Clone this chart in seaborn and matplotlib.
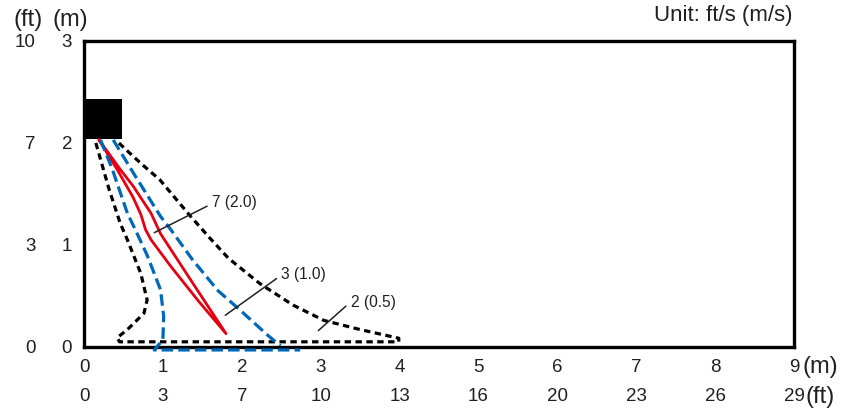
import matplotlib
matplotlib.use('Agg')
import matplotlib.pyplot as plt
import seaborn as sns
import pandas as pd

# axis ticks (m) and matching ft labels
x_ticks_m = [0, 1, 2, 3, 4, 5, 6, 7, 8, 9]
x_labels_ft = ['0', '3', '7', '10', '13', '16', '20', '23', '26', '29']
y_ticks_m = [0, 1, 2, 3]
y_labels_ft = ['0', '3', '7', '10']

# sensor head outline (m): x0, x1, y0, y1
head_x = [0.03, 0.48]
head_y = [2.04, 2.43]

# 7 ft/s (2.0 m/s) zone, red solid
red_x = [0.19, 0.42, 0.62, 0.72, 0.78, 0.85, 1.10, 1.45, 1.80,
         1.40, 0.97, 0.85, 0.62, 0.46, 0.19]
red_y = [2.03, 1.74, 1.47, 1.30, 1.15, 1.05, 0.79, 0.45, 0.13,
         0.60, 1.11, 1.31, 1.58, 1.74, 2.03]

# 3 ft/s (1.0 m/s) zone, blue dashed
blue_left_x = [0.21, 0.36, 0.55, 0.65, 0.80, 0.97, 1.01, 1.00, 0.89, 2.74]
blue_left_y = [2.03, 1.74, 1.31, 1.15, 0.90, 0.56, 0.30, 0.07, -0.03, -0.03]
blue_right_x = [0.37, 0.63, 0.97, 1.10, 1.38, 1.70, 1.98, 2.32, 2.49]
blue_right_y = [2.03, 1.70, 1.28, 1.15, 0.85, 0.55, 0.36, 0.12, 0.01]

# 2 ft/s (0.5 m/s) zone, black dashed
black_x = [0.15, 0.32, 0.46, 0.55, 0.72, 0.80, 0.76, 0.55, 0.42, 0.45, 3.99,
           3.99, 3.50, 3.04, 2.65, 2.23, 1.83, 1.58, 1.34, 0.96, 0.72, 0.40]
black_y = [2.00, 1.54, 1.21, 1.05, 0.72, 0.46, 0.33, 0.17, 0.09, 0.05, 0.05,
           0.085, 0.17, 0.26, 0.41, 0.62, 0.87, 1.08, 1.29, 1.64, 1.80, 2.03]

# callouts: label, leader start, leader end
zone_labels = ['7 (2.0)', '3 (1.0)', '2 (0.5)']
leader_x0 = [0.89, 1.79, 2.97]
leader_y0 = [1.12, 0.31, 0.16]
leader_x1 = [1.56, 2.44, 3.32]
leader_y1 = [1.38, 0.67, 0.40]

RED = '#e60012'
BLUE = '#0068b7'
INK = '#231f20'

sns.set_style('white')
plt.rcParams['font.family'] = ['Liberation Sans', 'DejaVu Sans']

fig = plt.figure(figsize=(8.52, 4.12), dpi=100)
ax = fig.add_axes([0.0986, 0.158, 0.8334, 0.7425])

# sensor head
ax.fill_between(head_x, head_y[0], head_y[1], color='black', lw=0)

sns.lineplot(data=pd.DataFrame({'x': black_x, 'y': black_y}), x='x', y='y',
             sort=False, estimator=None, color='black', lw=2.3,
             linestyle=(0, (2.0, 1.4)), ax=ax)
sns.lineplot(data=pd.DataFrame({'x': blue_left_x, 'y': blue_left_y}), x='x', y='y',
             sort=False, estimator=None, color=BLUE, lw=2.3,
             linestyle=(0, (3.6, 1.6)), ax=ax, clip_on=False, zorder=3)
sns.lineplot(data=pd.DataFrame({'x': blue_right_x, 'y': blue_right_y}), x='x', y='y',
             sort=False, estimator=None, color=BLUE, lw=2.3,
             linestyle=(0, (3.6, 1.6)), ax=ax)
sns.lineplot(data=pd.DataFrame({'x': red_x, 'y': red_y}), x='x', y='y',
             sort=False, estimator=None, color=RED, lw=2.0, ax=ax)

for lab, x0, y0, x1, y1 in zip(zone_labels, leader_x0, leader_y0, leader_x1, leader_y1):
    ax.plot([x0, x1], [y0, y1], color=INK, lw=1.1)
    ax.text(x1 + 0.06, y1 + 0.04, lab, fontsize=11.2, color=INK,
            ha='left', va='center')

ax.set_xlim(0, 9)
ax.set_ylim(0, 3)
ax.set_xlabel('')
ax.set_ylabel('')
for s in ax.spines.values():
    s.set_linewidth(2.4)
    s.set_color('black')

ax.set_xticks(x_ticks_m)
ax.set_xticklabels([str(v) for v in x_ticks_m])
ax.set_yticks(y_ticks_m)
ax.set_yticklabels([str(v) for v in y_ticks_m])
ax.tick_params(axis='both', direction='in', length=6, width=2.0, color='black',
               labelsize=13.5, labelcolor=INK)
ax.tick_params(axis='x', pad=9)
ax.tick_params(axis='y', pad=8.5)

# second row / column in feet
for xv, lab in zip(x_ticks_m, x_labels_ft):
    ax.annotate(lab, xy=(xv, 0), xycoords=('data', 'axes fraction'),
                xytext=(0, -36), textcoords='offset points',
                ha='center', va='center', fontsize=13.5, color=INK)
for yv, lab in zip(y_ticks_m, y_labels_ft):
    ax.annotate(lab, xy=(0, yv), xycoords=('axes fraction', 'data'),
                xytext=(-35, 0), textcoords='offset points',
                ha='right', va='center_baseline', fontsize=13.5, color=INK)

fig.text(28 / 852, 1 - 20 / 412, '(ft)', ha='center', va='center', fontsize=17, color=INK)
fig.text(70 / 852, 1 - 20 / 412, '(m)', ha='center', va='center', fontsize=17, color=INK)
fig.text(820 / 852, 1 - 367 / 412, '(m)', ha='center', va='center', fontsize=17, color=INK)
fig.text(820 / 852, 1 - 397 / 412, '(ft)', ha='center', va='center', fontsize=17, color=INK)
fig.text(793 / 852, 1 - 15 / 412, 'Unit: ft/s (m/s)', ha='right', va='center',
         fontsize=16, color=INK)

fig.savefig('out.png', dpi=100)
